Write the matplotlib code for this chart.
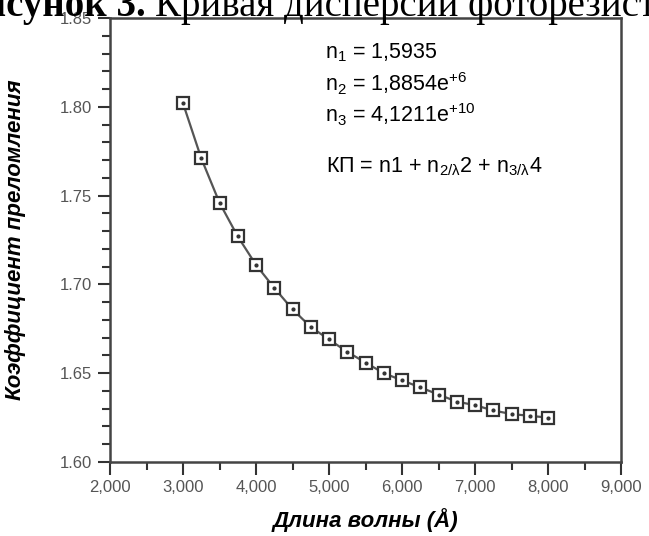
import matplotlib
matplotlib.use("Agg")
import matplotlib.pyplot as plt
from matplotlib.ticker import MultipleLocator, FuncFormatter

plt.rcParams['font.family'] = ['Liberation Sans', 'DejaVu Sans']
plt.rcParams['mathtext.fontset'] = 'custom'
plt.rcParams['mathtext.rm'] = 'Liberation Sans'
plt.rcParams['mathtext.it'] = 'Liberation Sans'

# wavelength (Angstrom) and refractive index
wavelength = [3000, 3250, 3500, 3750, 4000, 4250, 4500, 4750, 5000, 5250, 5500,
              5750, 6000, 6250, 6500, 6750, 7000, 7250, 7500, 7750, 8000]
index = [1.802, 1.771, 1.746, 1.727, 1.711, 1.698, 1.686, 1.676, 1.669, 1.662,
         1.656, 1.650, 1.646, 1.642, 1.638, 1.634, 1.632, 1.629, 1.627, 1.626, 1.625]

coef_lines = [r'n$_1$ = 1,5935', r'n$_2$ = 1,8854e$^{+6}$', r'n$_3$ = 4,1211e$^{+10}$']
formula = r'КП = n1 + n$_{2/λ}$2 + n$_{3/λ}$4'

fig = plt.figure(figsize=(6.49, 5.36), dpi=100)
ax = fig.add_axes([110/649, 74/536, 511/649, 444/536])

ax.plot(wavelength, index, '-', color='#555555', lw=1.6, zorder=2)
ax.plot(wavelength, index, 's', ms=9, mfc='white', mec='#333333', mew=1.6, zorder=3)
ax.plot(wavelength, index, 'o', ms=2, color='#333333', zorder=4)

ax.set_xlim(2000, 9000)
ax.set_ylim(1.60, 1.85)
ax.xaxis.set_major_locator(MultipleLocator(1000))
ax.xaxis.set_minor_locator(MultipleLocator(500))
ax.yaxis.set_major_locator(MultipleLocator(0.05))
ax.yaxis.set_minor_locator(MultipleLocator(0.01))
ax.xaxis.set_major_formatter(FuncFormatter(lambda v, p: f'{int(v):,}'))
ax.yaxis.set_major_formatter(FuncFormatter(lambda v, p: f'{v:.2f}'))

ax.tick_params(which='major', direction='out', length=9, width=1.5,
               color='#333333', labelsize=12, labelcolor='#555555', pad=4)
ax.tick_params(which='minor', direction='out', length=6, width=1.5, color='#333333')
for s in ax.spines.values():
    s.set_color('#444444')
    s.set_linewidth(1.8)

ax.set_xlabel('Длина волны (Å)', fontsize=16, fontweight='bold', fontstyle='italic')
ax.set_ylabel('Коэффициент преломления', fontsize=16, fontweight='bold', fontstyle='italic')
ax.xaxis.set_label_coords(0.5, -0.104)
ax.yaxis.set_label_coords(-0.165, 0.5)

for i, t in enumerate(coef_lines):
    fig.text(325/649, 1 - (53 + 31*i)/536, t, fontsize=15.5, va='center', ha='left')
fig.text(326/649, 1 - 167/536, formula, fontsize=15.5, va='center', ha='left')

# cut-off caption above the chart
t1 = fig.text(-40/649, 1 - 16/536, 'Рисунок 3.', fontsize=28, fontweight='bold',
              family='Liberation Serif', va='baseline')
r = fig.canvas.get_renderer()
bb = t1.get_window_extent(r)
fig.text((bb.x1 + 9)/fig.bbox.width, 1 - 16/536, 'Кривая дисперсии фоторезиста',
         fontsize=28, family='Liberation Serif', va='baseline')

fig.savefig('out.png', dpi=100)
